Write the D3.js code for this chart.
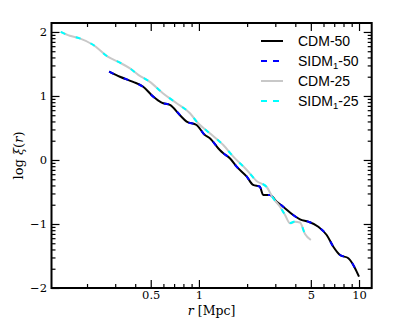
<!DOCTYPE html>
<html>
<head>
<meta charset="utf-8">
<script src="https://cdn.jsdelivr.net/npm/d3@7"></script>
<style>
  body { margin: 0; background: #fff; }
</style>
</head>
<body>
<div id="wrapper"></div>
<script>
// correlation function, r in Mpc and log xi(r)
const rCdm50 = [0.275, 0.321, 0.388, 0.449, 0.518, 0.585, 0.659, 0.761, 0.838, 0.967, 1.09, 1.17, 1.35, 1.42, 1.56, 1.72, 1.99, 2.18, 2.40, 2.52, 2.78, 3.06, 3.36, 3.88, 4.28, 4.82, 5.57, 6.28, 6.91, 7.60, 8.58, 9.44, 10.0];
const xiCdm50 = [1.38, 1.30, 1.22, 1.145, 0.99, 0.895, 0.86, 0.70, 0.60, 0.547, 0.39, 0.34, 0.156, 0.105, 0.027, -0.105, -0.26, -0.39, -0.417, -0.547, -0.547, -0.652, -0.73, -0.86, -0.927, -0.964, -1.042, -1.172, -1.355, -1.484, -1.536, -1.69, -1.823];

const rSidm50 = [0.275, 0.321, 0.388, 0.449, 0.518, 0.585, 0.659, 0.761, 0.838, 0.967, 1.09, 1.17, 1.35, 1.42, 1.56, 1.72, 1.99, 2.18, 2.40, 2.52, 2.78, 3.06, 3.36, 3.88, 4.28, 4.82, 5.57, 6.28, 6.91, 7.60, 8.58, 9.44, 10.0];
const xiSidm50 = [1.38, 1.30, 1.22, 1.14, 0.99, 0.895, 0.86, 0.705, 0.60, 0.545, 0.39, 0.34, 0.156, 0.105, 0.027, -0.105, -0.26, -0.39, -0.417, -0.545, -0.547, -0.652, -0.73, -0.86, -0.927, -0.964, -1.042, -1.172, -1.355, -1.484, -1.536, -1.69, -1.82];

const rCdm25 = [0.137, 0.156, 0.180, 0.218, 0.271, 0.321, 0.371, 0.418, 0.494, 0.598, 0.726, 0.879, 0.986, 1.17, 1.42, 1.64, 1.99, 2.29, 2.65, 2.91, 3.21, 3.45, 3.71, 3.98, 4.28, 4.60, 5.0];
const xiCdm25 = [2.0, 1.94, 1.90, 1.80, 1.61, 1.52, 1.43, 1.33, 1.22, 1.04, 0.886, 0.73, 0.578, 0.417, 0.234, 0.052, -0.156, -0.328, -0.422, -0.598, -0.73, -0.86, -0.99, -0.964, -0.977, -1.156, -1.25];

const rSidm25 = [0.137, 0.156, 0.180, 0.218, 0.271, 0.321, 0.371, 0.418, 0.494, 0.598, 0.726, 0.879, 0.986, 1.17, 1.42, 1.64, 1.99, 2.29, 2.65, 2.91, 3.21, 3.45, 3.71, 3.98, 4.28, 4.60, 5.0];
const xiSidm25 = [2.0, 1.94, 1.90, 1.80, 1.61, 1.52, 1.43, 1.33, 1.22, 1.04, 0.886, 0.73, 0.578, 0.417, 0.234, 0.052, -0.156, -0.328, -0.422, -0.598, -0.73, -0.86, -0.985, -0.96, -0.977, -1.156, -1.25];

const seriesNames = ["CDM-50", "SIDM1-50", "CDM-25", "SIDM1-25"];
const xTickLabels = [0.5, 1, 5, 10];
const yTickLabels = [-2, -1, 0, 1, 2];

function drawChart() {
    let dimensions = {
        width: 413,
        height: 332,
        margin: { top: 23, right: 41.3, bottom: 44, left: 51.5 }
    };
    dimensions.boundedWidth = dimensions.width - dimensions.margin.left - dimensions.margin.right;
    dimensions.boundedHeight = dimensions.height - dimensions.margin.top - dimensions.margin.bottom;

    const wrapper = d3.select("#wrapper")
        .append("svg")
            .attr("width", dimensions.width)
            .attr("height", dimensions.height);

    const bounds = wrapper.append("g")
        .attr("transform", `translate(${dimensions.margin.left},${dimensions.margin.top})`);

    const xScale = d3.scaleLog()
        .domain([0.12, 12])
        .range([0, dimensions.boundedWidth]);
    const yScale = d3.scaleLinear()
        .domain([-2, 2.14])
        .range([dimensions.boundedHeight, 0]);

    // series, drawn in legend order
    const series = [
        { name: seriesNames[0], r: rCdm50, xi: xiCdm50, color: "#000000", dash: null, legendDash: null },
        { name: seriesNames[1], r: rSidm50, xi: xiSidm50, color: "#0000ff", dash: "5,11", legendDash: "6,6" },
        { name: seriesNames[2], r: rCdm25, xi: xiCdm25, color: "#c8c8c8", dash: null, legendDash: null },
        { name: seriesNames[3], r: rSidm25, xi: xiSidm25, color: "#00ffff", dash: "5,11", legendDash: "6,6" }
    ];

    const lineGen = d3.line()
        .x(d => xScale(d[0]))
        .y(d => yScale(d[1]))
        .curve(d3.curveMonotoneX);

    series.forEach(s => {
        bounds.append("path")
            .datum(d3.zip(s.r, s.xi))
            .attr("d", lineGen)
            .attr("fill", "none")
            .attr("stroke", s.color)
            .attr("stroke-width", 2)
            .attr("stroke-dasharray", s.dash);
    });

    // ticks: log minor ticks on x, log-of-xi minor ticks on y
    const xMinor = [];
    [0.1, 1, 10].forEach(dec => {
        for (let k = 1; k <= 9; k++) {
            const v = k * dec;
            if (v >= 0.12 && v <= 12 && !xTickLabels.some(t => Math.abs(t - v) < 1e-9)) xMinor.push(v);
        }
    });
    const yMinor = [];
    for (let n = -2; n < 3; n++) {
        for (let k = 2; k <= 9; k++) {
            const v = n + Math.log10(k);
            if (v <= 2.14) yMinor.push(v);
        }
    }

    const tickFont = "DejaVu Serif";
    const styleAxis = (g, fontSize) => {
        g.select(".domain").remove();
        g.selectAll("line").attr("stroke", "#000").attr("stroke-width", 1.2);
        g.selectAll("text").attr("font-family", tickFont).attr("font-size", fontSize).attr("fill", "#000");
    };

    const xFormat = d => d === 0.5 ? "0.5" : d3.format("d")(d);

    bounds.append("g")
        .attr("transform", `translate(0,${dimensions.boundedHeight})`)
        .call(d3.axisBottom(xScale).tickValues(xTickLabels).tickSize(-8).tickPadding(3).tickFormat(xFormat))
        .call(g => styleAxis(g, 11.5));
    bounds.append("g")
        .attr("transform", `translate(0,${dimensions.boundedHeight})`)
        .call(d3.axisBottom(xScale).tickValues(xMinor).tickSize(-4).tickFormat(""))
        .call(g => styleAxis(g, 11.5));
    bounds.append("g")
        .call(d3.axisTop(xScale).tickValues(xTickLabels).tickSize(-8).tickFormat(""))
        .call(g => styleAxis(g, 11.5));
    bounds.append("g")
        .call(d3.axisTop(xScale).tickValues(xMinor).tickSize(-4).tickFormat(""))
        .call(g => styleAxis(g, 11.5));

    bounds.append("g")
        .call(d3.axisLeft(yScale).tickValues(yTickLabels).tickSize(-8).tickPadding(4.5).tickFormat(d3.format("d")))
        .call(g => styleAxis(g, 11.5));
    bounds.append("g")
        .call(d3.axisLeft(yScale).tickValues(yMinor).tickSize(-4).tickFormat(""))
        .call(g => styleAxis(g, 11.5));
    bounds.append("g")
        .attr("transform", `translate(${dimensions.boundedWidth},0)`)
        .call(d3.axisRight(yScale).tickValues(yTickLabels).tickSize(-8).tickFormat(""))
        .call(g => styleAxis(g, 11.5));
    bounds.append("g")
        .attr("transform", `translate(${dimensions.boundedWidth},0)`)
        .call(d3.axisRight(yScale).tickValues(yMinor).tickSize(-4).tickFormat(""))
        .call(g => styleAxis(g, 11.5));

    // frame
    bounds.append("rect")
        .attr("width", dimensions.boundedWidth)
        .attr("height", dimensions.boundedHeight)
        .attr("fill", "none")
        .attr("stroke", "#000")
        .attr("stroke-width", 2);

    // axis titles
    const xTitle = wrapper.append("text")
        .attr("x", dimensions.margin.left + dimensions.boundedWidth / 2)
        .attr("y", 315)
        .attr("text-anchor", "middle")
        .attr("font-family", tickFont)
        .attr("font-size", 12.5);
    xTitle.append("tspan").attr("font-style", "italic").text("r");
    xTitle.append("tspan").text(" [Mpc]");

    const yTitle = wrapper.append("text")
        .attr("transform", `translate(23,${dimensions.margin.top + dimensions.boundedHeight / 2}) rotate(-90)`)
        .attr("text-anchor", "middle")
        .attr("font-family", tickFont)
        .attr("font-size", 13);
    yTitle.append("tspan").text("log ");
    yTitle.append("tspan").attr("font-style", "italic").text("ξ");
    yTitle.append("tspan").text("(");
    yTitle.append("tspan").attr("font-style", "italic").text("r");
    yTitle.append("tspan").text(")");

    // legend
    const legend = wrapper.append("g");
    series.forEach((s, i) => {
        const baseY = 46 + i * 20;
        legend.append("line")
            .attr("x1", 261).attr("x2", 283)
            .attr("y1", baseY - 5).attr("y2", baseY - 5)
            .attr("stroke", s.color)
            .attr("stroke-width", 2)
            .attr("stroke-dasharray", s.legendDash);
        const label = legend.append("text")
            .attr("x", 298)
            .attr("y", baseY)
            .attr("font-family", "Liberation Sans, Arial, sans-serif")
            .attr("font-size", 14)
            .attr("fill", "#000");
        const m = s.name.match(/^(SIDM)1(-\d+)$/);
        if (m) {
            label.append("tspan").text(m[1]);
            label.append("tspan").attr("font-size", 9.5).attr("dy", 3).text("1");
            label.append("tspan").attr("dy", -3).text(m[2]);
        } else {
            label.text(s.name);
        }
    });
}

drawChart();
</script>
</body>
</html>
